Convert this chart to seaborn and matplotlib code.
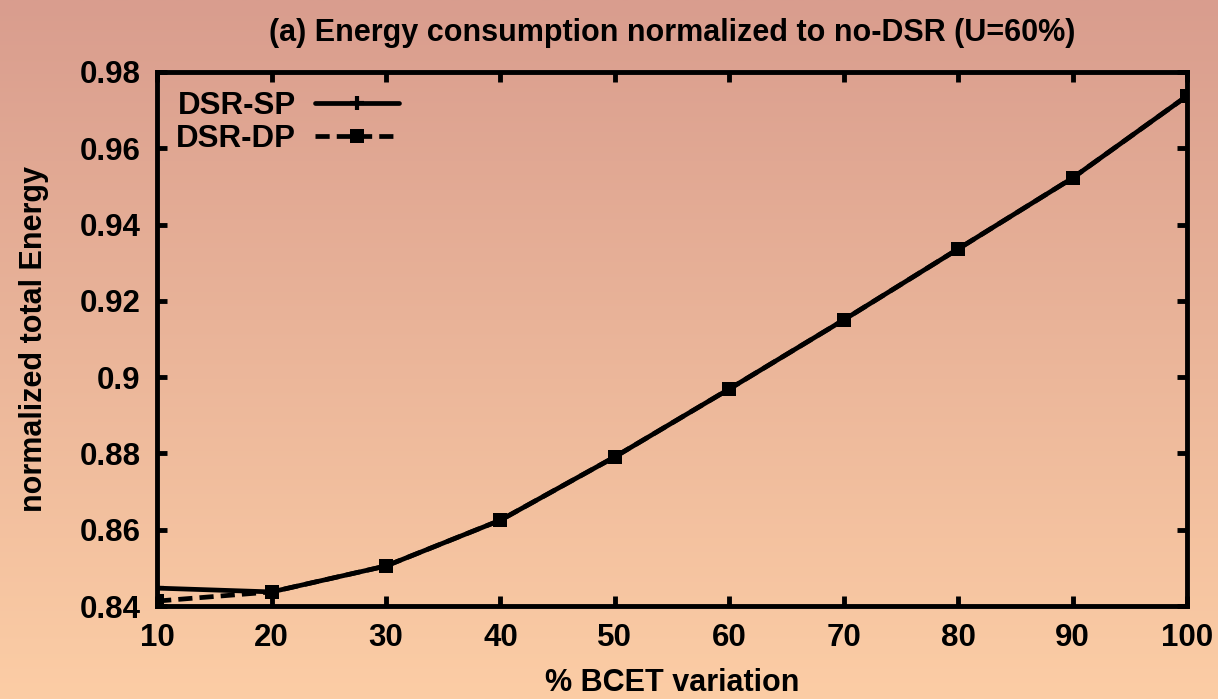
import numpy as np
import pandas as pd
import matplotlib
matplotlib.use("Agg")
import matplotlib.pyplot as plt
import seaborn as sns

# BCET variation (%) and normalized total energy for both policies
bcet_variation = [10, 20, 30, 40, 50, 60, 70, 80, 90, 100]
energy_sp = [0.8447, 0.8437, 0.8505, 0.8625, 0.8791, 0.8969, 0.9150, 0.9336, 0.9522, 0.9737]
energy_dp = [0.8413, 0.8437, 0.8505, 0.8625, 0.8791, 0.8969, 0.9150, 0.9336, 0.9522, 0.9737]
x_ticks = [10, 20, 30, 40, 50, 60, 70, 80, 90, 100]
y_ticks = [0.84, 0.86, 0.88, 0.90, 0.92, 0.94, 0.96, 0.98]
y_tick_labels = ["0.84", "0.86", "0.88", "0.9", "0.92", "0.94", "0.96", "0.98"]

sns.set_style("ticks")
plt.rcParams["font.family"] = ["Liberation Sans", "DejaVu Sans"]
plt.rcParams["font.weight"] = "bold"
plt.rcParams["text.color"] = "black"
plt.rcParams["axes.labelcolor"] = "black"
plt.rcParams["xtick.color"] = "black"
plt.rcParams["ytick.color"] = "black"

fig = plt.figure(figsize=(12.18, 6.99), dpi=100)

# vertical warm gradient behind everything
bg = fig.add_axes([0, 0, 1, 1], zorder=-10)
top = np.array([217, 157, 142]) / 255.0
bottom = np.array([252, 205, 165]) / 255.0
t = np.linspace(0, 1, 256)[:, None]
grad = top[None, :] * (1 - t) + bottom[None, :] * t
bg.imshow(grad[:, None, :], aspect="auto", extent=[0, 1, 0, 1])
bg.set_axis_off()

ax = fig.add_axes([0.129, 0.133, 0.8455, 0.764])
ax.set_facecolor("none")

df = pd.DataFrame({
    "bcet": bcet_variation * 2,
    "energy": energy_sp + energy_dp,
    "policy": ["DSR-SP"] * len(bcet_variation) + ["DSR-DP"] * len(bcet_variation),
})

sns.lineplot(data=df[df.policy == "DSR-SP"], x="bcet", y="energy", ax=ax,
             color="black", linewidth=3.4, marker="+", markersize=10,
             markeredgewidth=3, markeredgecolor="black", label="DSR-SP")
sns.lineplot(data=df[df.policy == "DSR-DP"], x="bcet", y="energy", ax=ax,
             color="black", linewidth=3.4, marker="s", markersize=9.5,
             markeredgewidth=0, markerfacecolor="black",
             linestyle=(0, (3, 1.5)), label="DSR-DP")

ax.set_xlim(10, 100)
ax.set_ylim(0.84, 0.98)
ax.set_xticks(x_ticks)
ax.set_xticklabels([str(v) for v in x_ticks])
ax.set_yticks(y_ticks)
ax.set_yticklabels(y_tick_labels)

for s in ax.spines.values():
    s.set_visible(True)
    s.set_linewidth(3.5)
    s.set_color("black")

ax.tick_params(axis="both", which="major", direction="in", length=7, width=3.5,
               top=True, right=True, labelsize=22.5, pad=12, colors="black")
for lbl in ax.get_xticklabels() + ax.get_yticklabels():
    lbl.set_fontweight("bold")

ax.set_xlabel("% BCET variation", fontsize=22, fontweight="bold", labelpad=11)
ax.set_ylabel("normalized total Energy", fontsize=22, fontweight="bold", labelpad=22)
ax.set_title("(a) Energy consumption normalized to no-DSR (U=60%)",
             fontsize=22, fontweight="bold", pad=22)

leg = ax.legend(loc="upper left", frameon=False, markerfirst=False,
                handlelength=2.7, fontsize=22.5, borderaxespad=0.2,
                handletextpad=0.6, labelspacing=0.1)
for txt in leg.get_texts():
    txt.set_fontweight("bold")

fig.savefig("out.png", dpi=100)
